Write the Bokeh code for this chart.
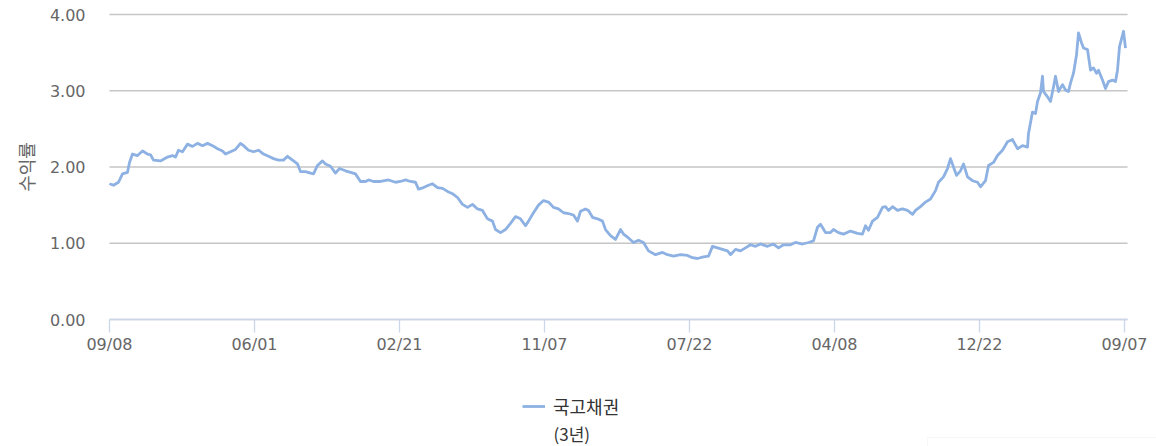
import math
from bokeh.plotting import figure
from bokeh.models import (ColumnDataSource, FixedTicker, Legend, LegendItem, Label,
                          Range1d, PrintfTickFormatter, BoxAnnotation)
from bokeh.embed import file_html
from bokeh.resources import INLINE

# ---- data (trading-day index, yield %) ----
days = [0, 4, 9, 13, 18, 20, 23, 28, 33, 38,
        41, 44, 51, 58, 63, 66, 69, 73, 78, 83,
        88, 93, 98, 103, 108, 113, 116, 121, 126, 131,
        134, 139, 144, 149, 154, 159, 164, 169, 174, 178,
        183, 188, 191, 196, 201, 204, 208, 213, 216, 221,
        226, 230, 236, 241, 246, 251, 256, 259, 264, 271,
        279, 286, 291, 296, 301, 306, 309, 314, 319, 323,
        328, 333, 338, 343, 348, 353, 358, 363, 368, 373,
        378, 383, 386, 391, 396, 401, 406, 411, 416, 419,
        424, 429, 434, 439, 444, 449, 454, 459, 464, 468,
        471, 476, 479, 483, 488, 493, 496, 501, 506, 511,
        514, 519, 524, 529, 534, 539, 546, 553, 558, 564,
        571, 578, 583, 588, 594, 599, 603, 608, 613, 618,
        621, 626, 631, 636, 641, 646, 651, 658, 664, 669,
        674, 681, 686, 693, 699, 704, 708, 711, 716, 721,
        724, 729, 734, 741, 748, 753, 756, 759, 763, 768,
        773, 776, 779, 783, 788, 793, 798, 803, 806, 811,
        816, 821, 826, 829, 834, 838, 841, 844, 847, 851,
        854, 858, 863, 868, 871, 876, 879, 884, 888, 893,
        898, 903, 908, 913, 918, 919, 923, 926, 928, 931,
        933, 934, 938, 941, 944, 946, 949, 953, 956, 959,
        961, 964, 967, 969, 972, 974, 978, 981, 984, 987,
        989, 993, 996, 999, 1003, 1006, 1008, 1010, 1014, 1016]

yields = [1.78, 1.76, 1.80, 1.91, 1.93, 2.06, 2.17, 2.15, 2.21, 2.17,
          2.16, 2.09, 2.08, 2.13, 2.15, 2.13, 2.22, 2.20, 2.30, 2.27,
          2.31, 2.28, 2.31, 2.28, 2.24, 2.21, 2.17, 2.20, 2.23, 2.31,
          2.28, 2.22, 2.20, 2.22, 2.17, 2.14, 2.11, 2.09, 2.09, 2.14,
          2.09, 2.04, 1.94, 1.94, 1.92, 1.91, 2.02, 2.08, 2.04, 2.01,
          1.92, 1.98, 1.95, 1.93, 1.91, 1.81, 1.81, 1.83, 1.81, 1.81,
          1.83, 1.80, 1.81, 1.83, 1.81, 1.80, 1.71, 1.73, 1.76, 1.78,
          1.73, 1.72, 1.68, 1.65, 1.60, 1.51, 1.47, 1.51, 1.45, 1.43,
          1.32, 1.29, 1.18, 1.14, 1.18, 1.26, 1.35, 1.32, 1.23, 1.29,
          1.40, 1.50, 1.56, 1.54, 1.47, 1.45, 1.40, 1.39, 1.37, 1.29,
          1.42, 1.45, 1.43, 1.34, 1.32, 1.29, 1.18, 1.10, 1.05, 1.18,
          1.12, 1.07, 1.01, 1.04, 1.01, 0.90, 0.85, 0.88, 0.85, 0.83,
          0.85, 0.84, 0.81, 0.80, 0.82, 0.83, 0.96, 0.94, 0.92, 0.90,
          0.85, 0.92, 0.90, 0.94, 0.98, 0.96, 0.99, 0.96, 0.99, 0.94,
          0.98, 0.98, 1.01, 0.99, 1.01, 1.03, 1.21, 1.25, 1.14, 1.14,
          1.18, 1.14, 1.12, 1.16, 1.13, 1.12, 1.23, 1.17, 1.29, 1.34,
          1.47, 1.48, 1.43, 1.48, 1.43, 1.45, 1.43, 1.38, 1.43, 1.48,
          1.54, 1.58, 1.69, 1.80, 1.87, 1.98, 2.11, 2.00, 1.89, 1.95,
          2.04, 1.87, 1.82, 1.80, 1.74, 1.82, 2.02, 2.06, 2.15, 2.22,
          2.33, 2.36, 2.24, 2.28, 2.26, 2.44, 2.72, 2.70, 2.86, 2.97,
          3.19, 2.99, 2.92, 2.86, 3.05, 3.19, 2.99, 3.08, 3.01, 2.99,
          3.10, 3.23, 3.47, 3.76, 3.63, 3.56, 3.54, 3.27, 3.30, 3.23,
          3.27, 3.14, 3.03, 3.12, 3.14, 3.12, 3.27, 3.58, 3.78, 3.56]

tick_days = [0, 145, 290, 435, 580, 725, 870, 1015]
tick_labels = ["09/08", "06/01", "02/21", "11/07", "07/22", "04/08", "12/22", "09/07"]
y_ticks = [0, 1, 2, 3, 4]
series_name = "국고채권"
series_sub = "(3년)"
y_title = "수익률"

src = ColumnDataSource(dict(day=days, yld=yields))

# ---- layout geometry (pixels) ----
W, H = 1156, 446
PLOT_L, PLOT_R, PLOT_T, PLOT_B = 109, 1127, 14, 319
X_END = PLOT_R - PLOT_L                  # day span of the plotting area (1 px/day)
Y_MAX = 4.0
PX_PER_UNIT = (PLOT_B - PLOT_T) / Y_MAX

# the Bokeh frame covers the whole canvas so that nothing is clipped;
# axes are pinned to the plotting area with fixed_location / bounds
x_range = Range1d(-PLOT_L, W - PLOT_L)
y_range = Range1d(-(H - PLOT_B) / PX_PER_UNIT, Y_MAX + PLOT_T / PX_PER_UNIT)

p = figure(width=W, height=H, output_backend="svg", toolbar_location=None,
           x_range=x_range, y_range=y_range,
           min_border_left=0, min_border_right=0, min_border_top=0,
           min_border_bottom=0)
p.outline_line_color = None
p.background_fill_color = "white"
p.border_fill_color = "white"

LABEL_FONT = "DejaVu Sans"
KR_FONT = "Noto Sans CJK KR"
GRID_COLOR = "#c6c6c6"
AXIS_COLOR = "#ccd6eb"
TICK_TEXT = "#666666"
LINE_COLOR = "#8db1e2"

# horizontal grid lines limited to the plotting area
p.xgrid.visible = False
p.ygrid.visible = False
p.segment(x0=[0] * len(y_ticks), x1=[X_END] * len(y_ticks), y0=y_ticks, y1=y_ticks,
          line_color=GRID_COLOR, line_width=1.3)

# y axis
p.yaxis.fixed_location = 0
p.yaxis.bounds = (0, Y_MAX)
p.yaxis.ticker = FixedTicker(ticks=y_ticks)
p.yaxis.formatter = PrintfTickFormatter(format="%.2f")
p.yaxis.axis_line_color = None
p.yaxis.major_tick_line_color = None
p.yaxis.minor_tick_line_color = None
p.yaxis.major_tick_out = 0
p.yaxis.major_label_standoff = 24
p.yaxis.major_label_text_font = LABEL_FONT
p.yaxis.major_label_text_font_size = "16px"
p.yaxis.major_label_text_color = TICK_TEXT

# x axis, drawn at value 0
p.xaxis.fixed_location = 0
p.xaxis.bounds = (0, X_END)
p.xaxis.ticker = FixedTicker(ticks=tick_days)
p.xaxis.major_label_overrides = {d: t for d, t in zip(tick_days, tick_labels)}
p.xaxis.axis_line_color = AXIS_COLOR
p.xaxis.axis_line_width = 1.3
p.xaxis.major_tick_line_color = AXIS_COLOR
p.xaxis.major_tick_line_width = 1.3
p.xaxis.minor_tick_line_color = None
p.xaxis.major_tick_out = 13
p.xaxis.major_tick_in = 0
p.xaxis.major_label_standoff = 2
p.xaxis.major_label_text_font = LABEL_FONT
p.xaxis.major_label_text_font_size = "16px"
p.xaxis.major_label_text_color = TICK_TEXT

r = p.line("day", "yld", source=src, line_color=LINE_COLOR, line_width=2.8,
           line_join="round")

# y axis title
p.add_layout(Label(x=25, y=H - (PLOT_T + PLOT_B) / 2, x_units="screen", y_units="screen",
                   text=y_title, angle=math.pi / 2, text_align="center",
                   text_baseline="middle", text_font=KR_FONT, text_font_size="18px",
                   text_color=TICK_TEXT))

legend = Legend(items=[LegendItem(label=series_name, renderers=[r])],
                location=(522, 27), padding=0, margin=0, spacing=0,
                glyph_width=23, glyph_height=20, label_height=20,
                label_standoff=8, label_text_font=KR_FONT,
                label_text_font_size="18px", label_text_color="#333333",
                background_fill_alpha=0, border_line_color=None)
p.add_layout(legend)

p.add_layout(Label(x=553, y=13, x_units="screen", y_units="screen",
                   text=series_sub, text_baseline="middle", text_font=KR_FONT,
                   text_font_size="17px", text_color="#333333"))

# faint outline of a panel peeking in at the bottom right of the page
p.add_layout(BoxAnnotation(left=927, right=W + 5, top=H - 437, bottom=-5,
                           left_units="screen", right_units="screen",
                           top_units="screen", bottom_units="screen",
                           fill_alpha=0, line_color="#e4e4e4", line_width=1))

open("out.html", "w").write(file_html(p, INLINE))
